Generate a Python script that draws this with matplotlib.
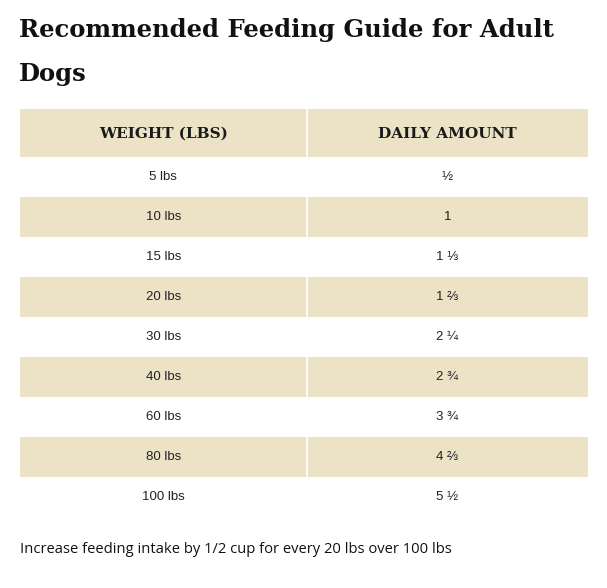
import matplotlib
matplotlib.use("Agg")
from matplotlib import pyplot as plt

title_lines = ["Recommended Feeding Guide for Adult", "Dogs"]
headers = ["WEIGHT (LBS)", "DAILY AMOUNT"]
weights = ["5 lbs", "10 lbs", "15 lbs", "20 lbs", "30 lbs", "40 lbs", "60 lbs", "80 lbs", "100 lbs"]
amounts = ["½", "1", "1 ⅓", "1 ⅔", "2 ¼", "2 ¾", "3 ¾", "4 ⅔", "5 ½"]
note = "Increase feeding intake by 1/2 cup for every 20 lbs over 100 lbs"

beige = "#ECE3C7"
W, H = 607, 588
fig = plt.figure(figsize=(W/100, H/100), dpi=100)
fig.patch.set_facecolor("white")

# table area in pixels
left, right, top, bottom = 20, 588, 109, 517
ax = fig.add_axes([left/W, 1 - bottom/H, (right-left)/W, (bottom-top)/H])
tw = right - left
head_h, row_h = 48, 40
ax.set_xlim(0, tw)
ax.set_ylim(head_h + row_h*len(weights), 0)
ax.axis("off")

split = 286.5
col_x = [split/2, split + (tw - split)/2]

# header
ax.barh(head_h/2, tw, height=head_h, left=0, color=beige, linewidth=0)
for x, h in zip(col_x, headers):
    ax.text(x, head_h/2 + 1, h, ha="center", va="center", family="DejaVu Serif",
            fontweight="bold", fontsize=11, color="#1a1a1a")

for i, (w, a) in enumerate(zip(weights, amounts)):
    yc = head_h + row_h*i + row_h/2
    if i % 2 == 1:
        ax.barh(yc, tw, height=row_h, left=0, color=beige, linewidth=0)
    ax.text(col_x[0], yc, w, ha="center", va="center",
            family=["Liberation Sans", "DejaVu Sans"], fontsize=9.5, color="#222222")
    ax.text(col_x[1], yc, a, ha="center", va="center",
            family=["Liberation Sans", "DejaVu Sans"], fontsize=9.5, color="#222222")

ax.axvline(split, color="white", linewidth=1.2)

# title, one baseline per line
for k, line in enumerate(title_lines):
    fig.text(19/W, 1 - (37.5 + 43*k)/H, line, ha="left", va="baseline",
             family="DejaVu Serif", fontweight="bold", fontsize=17.5, color="#111111")

fig.text(20/W, 1 - 553/H, note, ha="left", va="baseline", family="Open Sans",
         fontsize=10.6, color="#111111")

fig.savefig("out.png", dpi=100, facecolor="white")
